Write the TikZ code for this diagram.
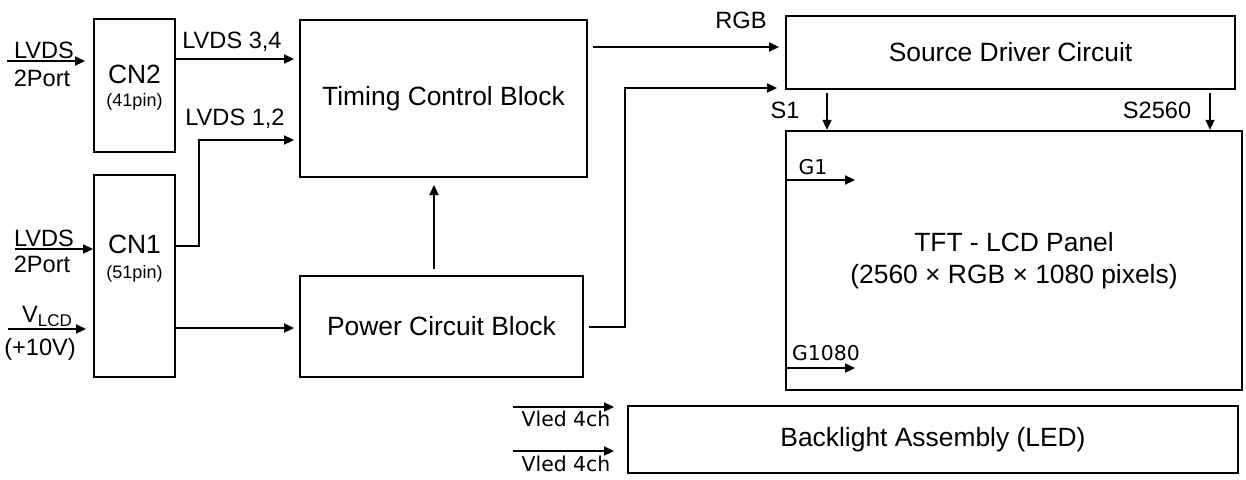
\documentclass[tikz,border=0pt]{standalone}
\usepackage{fontspec}
\setmainfont{Liberation Sans}
\newfontfamily\verdfont{DejaVu Sans}
\usepackage{tikz}
\usetikzlibrary{arrows.meta,positioning,calc}

\begin{document}
\begin{tikzpicture}[
  x=0.5pt, y=-0.5pt,
  >={Triangle[length=5pt,width=4.6pt]},
  blockbox/.style={
    draw,
    line width=1pt,
    inner sep=0pt,
    align=center,
    font=\fontsize{13.2}{16}\selectfont
  },
  boxtext/.style={inner sep=0pt, font=\fontsize{13.2}{16}\selectfont},
  sig/.style={->, line width=0.65pt},
  siglabel/.style={inner sep=0pt, font=\fontsize{11.8}{14}\selectfont},
  pinlabel/.style={inner sep=0pt, font=\fontsize{9}{11}\selectfont},
  gatelabel/.style={inner sep=0pt, font=\verdfont\fontsize{10.2}{12}\selectfont}
]
  \useasboundingbox (0,0) rectangle (1246,479);

  % Connectors
  \node[blockbox, minimum width=40.5pt, minimum height=66.5pt] (cn2) at (134.5,85.5) {};
  \node[blockbox, minimum width=40.5pt, minimum height=101pt] (cn1) at (134.5,276) {};
  \node[boxtext, anchor=base] (cn2name) at (134.5,83) {CN2};
  \node[pinlabel, anchor=base] (cn2pin) at (134.5,106) {(41pin)};
  \node[boxtext, anchor=base] (cn1name) at (134.5,253) {CN1};
  \node[pinlabel, anchor=base] (cn1pin) at (134.5,278) {(51pin)};

  % Main blocks
  \node[blockbox, minimum width=143.5pt, minimum height=78.5pt] (tcb) at (443.5,98.5) {Timing Control Block};
  \node[blockbox, minimum width=141.5pt, minimum height=50.5pt] (pcb) at (441.5,326.5) {Power Circuit Block};
  \node[blockbox, minimum width=224.5pt, minimum height=36.5pt] (sdc) at (1010.5,52.5) {Source Driver Circuit};
  \node[blockbox, line width=1.2pt, minimum width=228pt, minimum height=129.5pt] (tft) at (1014,260.5) {TFT - LCD Panel\\(2560 × RGB × 1080 pixels)};
  \node[blockbox, minimum width=305pt, minimum height=33.5pt] (bl) at (933,439.5) {Backlight Assembly (LED)};

  % Inputs on the left
  \coordinate (in2) at (7,61);
  \coordinate (in1) at (15,249);
  \coordinate (invlcd) at (8,329);
  \draw[sig, shorten >=4pt] (in2) -- (in2 -| cn2.west);
  \draw[sig] (in1) -- (in1 -| cn1.west);
  \draw[sig, shorten >=3.5pt] (invlcd) -- (invlcd -| cn1.west);
  \node[siglabel, anchor=base] (in2top) at (44,58) {LVDS};
  \node[siglabel, anchor=base] (in2bot) at (42,86) {2Port};
  \node[siglabel, anchor=base] (in1top) at (44,246) {LVDS};
  \node[siglabel, anchor=base] (in1bot) at (42,272) {2Port};
  \node[siglabel, anchor=base] (vlcdtop) at (47,322) {V\raisebox{-0.35ex}{\fontsize{8.5}{10}\selectfont LCD}};
  \node[siglabel, anchor=base] (vlcdbot) at (40,355) {(+10V)};

  % LVDS to timing control
  \draw[sig, shorten >=2.5pt] (cn2.east |- 0,59) -- (tcb.west |- 0,59);
  \node[siglabel, anchor=base] (lvds34) at (232,48) {LVDS 3,4};
  \coordinate (bend12) at (199,140);
  \draw[sig, shorten >=2.5pt] (cn1.east |- 0,246) -| (bend12) -- (tcb.west |- bend12);
  \node[siglabel, anchor=base] (lvds12) at (235,125) {LVDS 1,2};

  % Power paths
  \draw[sig, shorten >=2.5pt] (cn1.east |- 0,328) -- (pcb.west |- 0,328);
  \draw[sig, shorten <=3pt, shorten >=3.5pt] (pcb.north -| 434,0) -- (tcb.south -| 434,0);
  \coordinate (bendpw) at (625,88);
  \draw[sig, shorten <=2.5pt, shorten >=4pt] (pcb.east |- 0,327) -| (bendpw) -- (sdc.west |- bendpw);

  % RGB to source driver
  \draw[sig, shorten <=2.5pt, shorten >=3pt] (tcb.east |- 0,47) -- (sdc.west |- 0,47);
  \node[siglabel, anchor=base] (rgb) at (741,28) {RGB};

  % Source lines
  \draw[sig, line width=0.55pt, shorten <=1.5pt] (sdc.south -| 827,0) -- (tft.north -| 827,0);
  \draw[sig, line width=0.55pt, shorten <=1.5pt] (sdc.south -| 1210,0) -- (tft.north -| 1210,0);
  \node[siglabel, anchor=base] (s1) at (785,118) {S1};
  \node[siglabel, anchor=base] (s2560) at (1157,118) {S2560};

  % Gate lines
  \coordinate (g1end) at (855,180);
  \coordinate (gnend) at (855,368);
  \draw[sig] (tft.west |- g1end) -- (g1end);
  \draw[sig] (tft.west |- gnend) -- (gnend);
  \node[gatelabel, anchor=base] (g1) at (813,174) {G1};
  \node[gatelabel, anchor=base] (gn) at (826,360) {G1080};

  % Backlight supply
  \coordinate (vled1) at (513,407);
  \coordinate (vled2) at (513,451);
  \draw[sig, shorten >=6.5pt] (vled1) -- (vled1 -| bl.west);
  \draw[sig, shorten >=6.5pt] (vled2) -- (vled2 -| bl.west);
  \node[gatelabel, anchor=base] (vled1txt) at (566,426) {Vled 4ch};
  \node[gatelabel, anchor=base] (vled2txt) at (566,471) {Vled 4ch};

\end{tikzpicture}
\end{document}
